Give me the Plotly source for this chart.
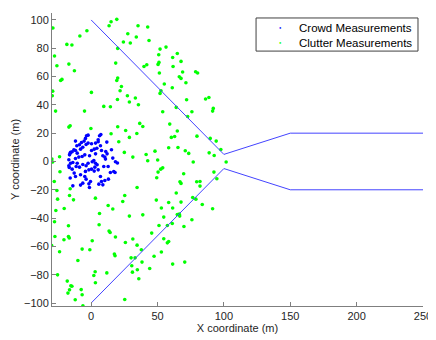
import plotly.graph_objects as go

# Crowd measurements (m)
crowd_x = [-3.5, -2.3, -4.3, -5.3, -7.3, -8.8, -11.8, -10.8, -13.0, -14.3, -16.3, -15.5, -11.8, -10.5,
           -8.0, -6.3, -3.8, -2.3, 0.3, 3.3, 5.3, 6.3, 5.3, 7.0, 4.3, 2.3, 0.3, 7.8, 8.8, 10.3, 3.3,
           -1.2, -4.8, -6.8, -9.3, -11.8, -16.8, -15.5, -13.8, -10.5, -11.3, -8.8, -6.3, -3.8, -2.3,
           0.8, 2.0, 3.3, 4.5, 2.8, 0.3, -1.7, 2.3, 5.3, 9.5, 10.8, 12.0, 15.3, 16.3, 18.3, 17.0, 14.5,
           12.8, -12.8, -11.8, -8.0, -4.8, -3.8, -6.3, -8.0, -1.7, 7.0, 7.8, 10.3, 8.8, 5.8, -4.3,
           -14.3, -16.8, 19.8, 18.0, 11.8, 7.3, 11.0, -1.3, -13.8, -15.8, -16.5, -15.8, 13.0, -0.5]
crowd_y = [18.2, 18.6, 16.3, 14.4, 13.4, 11.8, 14.4, 11.1, 8.3, 6.9, 4.7, 6.4, 7.8, 5.9,
           8.7, 10.1, 12.0, 13.0, 12.5, 13.0, 13.9, 18.2, 15.3, 11.1, 9.4, 8.7, 7.8, 7.8, 4.0, 3.1, 5.4,
           4.0, 4.7, 3.5, 3.1, 2.1, 1.2, -1.2, -0.7, -1.2, -3.5, -4.0, -2.1, -3.0, -1.2,
           -0.2, 0.7, -1.2, -2.3, -4.0, -5.4, -5.9, -6.8, -5.9, -3.5, 1.7, 5.4, 8.3, 2.4, -0.2, -7.1, -7.8,
           -3.5, -8.2, -10.6, -9.4, -10.6, -12.5, -15.3, -16.7, -15.8, -10.6, -14.1, -13.4, -16.5, -16.0, -7.0,
           -5.4, -3.0, -1.1, -7.8, 13.7, 19.0, 7.0, -18.4, -17.2, -11.7, -4.2, 5.9, -12.5, -14.1]

# Clutter measurements (m)
clutter_x = [-28.8, -27.6, -25.8, -18.3, -14.5, -8.5, -3.2, -16.8, -12.6, -22.0, -23.0, -29.0, -29.3, 0.2,
             9.5, 14.5, 15.0, 13.5, 19.3, 27.6, 24.3, 29.5, 34.0, 35.3, 42.6, 43.6, 20.0, 18.5, 20.0, 19.3,
             22.8, 21.8, 27.3, 33.3, 28.8, 35.6, 19.8, 39.8, 41.9,
             51.9, 56.4, 50.9, 64.9, 61.4, 51.1, 50.4, 67.7, 61.7, 51.4, 68.9, 78.7, 80.2, 66.4, 67.7,
             71.4, 55.1, 61.1, 52.6, 51.9, 71.9, 86.2, 88.7, 64.1, 92.0,
             -26.8, -5.0, -15.8, -16.8, -0.2, 20.0, 26.0, 36.6, 38.9, 34.4, 15.0, 28.8, 20.8, 25.0, 41.4,
             42.6, 31.4, -23.8, -29.6, -29.0, -23.5, -27.8, -25.8, -15.8, -16.3, -25.3, -13.3, -20.3, 3.2,
             25.3, 23.8, 34.6, 12.8, 16.3,
             53.9, 75.9, 91.5, 72.7, 59.2, 64.9, 60.4, 62.9, 79.7, 89.7, 94.2, 48.1, 58.4, 65.4, 70.9,
             73.5, 88.9, 92.7, 97.7, 76.9, 50.1, 101.7, 53.9, 52.4, 50.4, 49.4, 69.7, 92.5, 94.7, 66.9,
             67.7, 79.5, 82.0, 82.0, 64.1, 76.5, 78.9, 49.1, 58.4, 67.7, 83.7, 52.9, 61.4, 91.5,
             -26.6, -27.6, -17.1, -27.3, -20.5, -17.1, -16.5, -29.8, -23.8, 6.3, 6.0, 13.5, 14.3, 18.3,
             28.8, 38.9, 0.8, -6.8, -1.0, -10.0, 17.5, 18.0, 25.8, 31.4, 34.6, 37.8, 30.1, 33.1, 30.6,
             31.1, 34.8, 38.3, 44.1, 35.9, -25.3, 3.0, 2.0, 11.8, 3.2, -18.0, -15.3, -14.5, -16.3, -17.5,
             -7.5, -6.8, -12.0, -6.2, 25.3,
             54.7, 51.1, 57.4, 61.1, 64.9, 66.4, 66.7, 69.9, 75.9, 45.6, 54.7, 58.4, 57.4, 52.9, 47.4,
             61.4, 70.5]
clutter_y = [94.3, 74.5, 67.6, 82.7, 82.3, 88.6, 92.4, 68.8, 64.1, 58.0, 57.2, 49.7, 46.4, 48.8,
             38.9, 38.7, 98.7, 95.9, 100.4, 90.2, 84.4, 83.7, 87.9, 95.9, 95.0, 85.5, 79.9, 69.5, 58.9, 57.2,
             53.0, 50.0, 46.4, 44.8, 42.0, 40.1, 43.8, 67.1, 68.3,
             79.4, 80.8, 75.4, 76.3, 73.5, 70.0, 68.6, 70.7, 67.1, 62.5, 63.2, 63.4, 62.5, 59.9, 58.7,
             55.6, 54.7, 52.1, 50.0, 48.1, 43.6, 44.1, 45.2, 38.2, 37.5,
             35.6, 35.6, 25.2, 24.3, 23.3, 24.5, 21.9, 26.9, 24.7, 19.8, 19.6, 17.0, 13.9, 6.4, 4.9,
             0.5, 3.1, 3.3, 1.7, -0.4, -7.3, -14.1, -20.5, -19.3, -24.0, -26.6, -27.1, -33.2, -25.9,
             -24.0, -28.3, -18.4, -31.1, -33.6,
             35.1, 35.1, 35.6, 31.8, 26.4, 21.5, 17.0, 17.7, 17.9, 16.3, 14.4, 7.3, 9.7, 9.9, 7.6,
             5.7, 6.1, 4.2, 8.5, -0.4, 1.0, -0.4, -4.5, -5.4, -7.5, -11.5, -8.7, -7.5, -12.2, -14.3,
             -15.5, -14.3, -14.1, -17.4, -22.3, -25.4, -26.6, -27.3, -29.0, -28.7, -30.4, -32.9, -32.9, -33.4,
             -34.6, -42.6, -45.4, -53.0, -55.3, -53.0, -54.1, -59.4, -63.8, -36.7, -44.7, -49.2, -50.2, -53.4,
             -38.6, -37.7, -56.0, -61.9, -62.4, -70.0, -65.4, -66.6, -57.2, -54.8, -59.1, -62.4, -68.1, -68.1, -73.7,
             -78.2, -76.5, -71.1, -75.6, -82.9, -80.1, -77.9, -80.6, -78.7, -85.7, -84.5, -87.8, -88.1, -90.7, -93.0,
             -90.5, -94.2, -97.7, -102.0, -97.5,
             -39.3, -45.2, -45.2, -43.8, -37.5, -37.2, -38.6, -45.9, -41.2, -50.6, -54.6, -56.5, -57.5, -64.0, -66.9,
             -72.5, -71.1]

# Corridor walls
upper_x = [0, 100, 150, 250]
upper_y = [100, 5, 20, 20]
lower_x = [0, 100, 150, 250]
lower_y = [-100, -5, -20, -20]

x_ticks = [0, 50, 100, 150, 200, 250]
y_ticks = [-100, -80, -60, -40, -20, 0, 20, 40, 60, 80, 100]

legend_labels = ["Crowd Measurements", "Clutter Measurements"]
legend_colors = ["#0000ff", "#00ff00"]

fig = go.Figure()

fig.add_trace(go.Scatter(
    x=crowd_x, y=crowd_y, mode="markers", name=legend_labels[0], showlegend=False,
    marker=dict(color=legend_colors[0], size=3.6, line=dict(width=0)),
))
fig.add_trace(go.Scatter(
    x=clutter_x, y=clutter_y, mode="markers", name=legend_labels[1], showlegend=False,
    marker=dict(color=legend_colors[1], size=3.6, line=dict(width=0)),
))
for wx, wy in [(upper_x, upper_y), (lower_x, lower_y)]:
    fig.add_trace(go.Scatter(
        x=wx, y=wy, mode="lines", showlegend=False, hoverinfo="skip",
        line=dict(color="#4444ff", width=1),
    ))

# MATLAB-style legend box drawn by hand (plotly's own legend rows are too tall)
fig.add_shape(type="rect", xref="paper", yref="paper",
              x0=0.55, x1=0.9865, y0=0.870, y1=0.983,
              line=dict(color="#404040", width=1), fillcolor="white", layer="above")
for i, (label, color) in enumerate(zip(legend_labels, legend_colors)):
    yy = 0.949 - i * 0.051
    fig.add_annotation(x=0.615, y=yy, xref="paper", yref="paper", text="●",
                       showarrow=False, font=dict(size=4, color=color),
                       xanchor="center", yanchor="middle")
    fig.add_annotation(x=0.976, y=yy, xref="paper", yref="paper", text=label,
                       showarrow=False, font=dict(size=11.5, color="#000000"),
                       xanchor="right", yanchor="middle")

axis_common = dict(
    showline=True, linecolor="#7f7f7f", linewidth=1, mirror=False,
    ticks="inside", ticklen=4, tickcolor="#7f7f7f",
    showgrid=False, zeroline=False, automargin=False,
    tickfont=dict(size=11, color="#262626"),
)

# the page body has an 8px margin, so the figure is sized/offset to fit the 436x340 window
fig.update_layout(
    width=428, height=332,
    margin=dict(l=44, r=13, t=5, b=34),
    paper_bgcolor="white", plot_bgcolor="white",
    font=dict(family="Liberation Sans, Arial, sans-serif", size=11, color="#262626"),
    showlegend=False,
    xaxis=dict(
        range=[-29.5, 250], tickvals=x_ticks,
        title=dict(text="X coordinate (m)", font=dict(size=11), standoff=2),
        **axis_common,
    ),
    yaxis=dict(
        range=[-102.1, 104.9], tickvals=y_ticks,
        title=dict(text="Y coordinate (m)", font=dict(size=11), standoff=2),
        **axis_common,
    ),
)

fig.write_html("out.html")
